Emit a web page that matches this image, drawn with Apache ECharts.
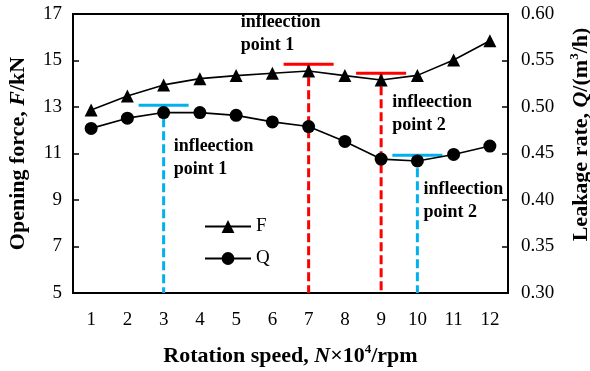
<!DOCTYPE html>
<html>
<head>
<meta charset="utf-8">
<script src="https://cdn.jsdelivr.net/npm/echarts@6/dist/echarts.min.js"></script>
<style>
  html, body { margin: 0; padding: 0; background: #fff; }
  #chart { width: 590px; height: 371px; }
</style>
</head>
<body>
<div id="chart"></div>
<script>
// Rotation speed categories (×10^4 rpm)
const speeds = ['1', '2', '3', '4', '5', '6', '7', '8', '9', '10', '11', '12'];
// Opening force F (kN)
const forceF = [12.87, 13.47, 13.95, 14.22, 14.35, 14.45, 14.55, 14.35, 14.16, 14.36, 15.02, 15.85];
// Leakage rate Q (m3/h)
const leakQ = [0.477, 0.488, 0.494, 0.494, 0.491, 0.484, 0.479, 0.463, 0.444, 0.442, 0.449, 0.458];
// Left axis tick labels
const forceTicks = [5, 7, 9, 11, 13, 15, 17];

// Inflection points of F (speed, bar level on the F axis)
const fInflectionX = [7, 9];
const fInflectionLevel = [14.84, 14.45];
const fInflectionText = ['infleection\npoint 1', 'infleection\npoint 2'];
// Inflection points of Q (speed, bar level on the Q axis)
const qInflectionX = [3, 10];
const qInflectionLevel = [0.502, 0.448];
const qInflectionText = ['infleection\npoint 1', 'infleection\npoint 2'];

const SERIF = '"Liberation Serif", "Times New Roman", serif';
const HALF = 0.69; // half length of the marker bar, in speed units

// label offsets (px) from each inflection bar centre
const fTextOffset = [[-68, -53], [11, 18]];
const qTextOffset = [[10, 30], [6, 22]];

function inflectionRenderer(texts, offsets, color) {
  return function (params, api) {
    const x = api.value(0), lv = api.value(1);
    const p = api.coord([x, lv]);
    const l = api.coord([x - HALF, lv]);
    const r = api.coord([x + HALF, lv]);
    const yBottom = params.coordSys.y + params.coordSys.height;
    const off = offsets[params.dataIndex];
    return {
      type: 'group',
      children: [
        { type: 'line', shape: { x1: p[0], y1: p[1], x2: p[0], y2: yBottom },
          style: { stroke: color, lineWidth: 3, lineDash: [9, 4] } },
        { type: 'line', shape: { x1: l[0], y1: p[1], x2: r[0], y2: p[1] },
          style: { stroke: color, lineWidth: 3 } },
        { type: 'text', x: p[0] + off[0], y: p[1] + off[1],
          style: { text: texts[params.dataIndex], fontFamily: SERIF, fontWeight: 'bold',
                   fontSize: 18, lineHeight: 23, fill: '#000', align: 'left', verticalAlign: 'top' } }
      ]
    };
  };
}

const nameRich = {
  b: { fontFamily: SERIF, fontWeight: 'bold', fontSize: 22, color: '#000', lineHeight: 26 },
  bi: { fontFamily: SERIF, fontWeight: 'bold', fontStyle: 'italic', fontSize: 22, color: '#000', lineHeight: 26 },
  sup: { fontFamily: SERIF, fontWeight: 'bold', fontSize: 13, color: '#000', lineHeight: 15, verticalAlign: 'top' }
};

const chart = echarts.init(document.getElementById('chart'), null, { renderer: 'canvas' });
chart.setOption({
  animation: false,
  backgroundColor: '#fff',
  grid: { left: 73, right: 82, top: 14, bottom: 78, show: true, borderColor: '#000', borderWidth: 2,
          containLabel: false, outerBoundsMode: 'none' },
  legend: {
    data: ['F', 'Q'],
    orient: 'vertical',
    left: 199, top: 212,
    itemWidth: 46, itemHeight: 16, itemGap: 13,
    textStyle: { fontFamily: SERIF, fontSize: 19, color: '#000' }
  },
  xAxis: [
    {
      type: 'category', data: speeds, boundaryGap: true,
      name: '{b|Rotation speed, }{bi|N}{b|×10}{sup|4}{b|/rpm}',
      nameLocation: 'middle', nameGap: 50,
      nameTextStyle: { rich: nameRich },
      axisLine: { lineStyle: { color: '#000', width: 2 } },
      axisTick: { inside: true, length: 6, lineStyle: { color: '#000', width: 1.5 } },
      axisLabel: { margin: 18, fontFamily: SERIF, fontSize: 19, color: '#000' },
      splitLine: { show: false }
    },
    { type: 'value', min: 0.5, max: 12.5, show: false }
  ],
  yAxis: [
    {
      type: 'value', min: 5, max: 17,
      name: '{b|Opening force, }{bi|F}{b|/kN}',
      nameLocation: 'middle', nameGap: 42, nameRotate: 90,
      nameTextStyle: { rich: nameRich },
      axisLine: { show: true, lineStyle: { color: '#000', width: 2 } },
      axisTick: { show: true, inside: true, length: 6, customValues: forceTicks,
                  lineStyle: { color: '#000', width: 1.5 } },
      axisLabel: { customValues: forceTicks, margin: 11, fontFamily: SERIF, fontSize: 19, color: '#000' },
      splitLine: { show: false }
    },
    {
      type: 'value', min: 0.30, max: 0.60, interval: 0.05, position: 'right',
      name: '{b|Leakage rate, }{bi|Q}{b|/(m}{sup|3}{b|/h)}',
      nameLocation: 'middle', nameGap: 60, nameRotate: 90,
      nameTextStyle: { rich: nameRich, padding: [0, 0, 0, 38] },
      axisLine: { show: true, lineStyle: { color: '#000', width: 2 } },
      axisTick: { show: true, inside: true, length: 6, lineStyle: { color: '#000', width: 1.5 } },
      axisLabel: { margin: 13, fontFamily: SERIF, fontSize: 19, color: '#000',
                   formatter: v => v.toFixed(2) },
      splitLine: { show: false }
    }
  ],
  series: [
    {
      type: 'custom', name: 'F inflection', xAxisIndex: 1, yAxisIndex: 0, z: 1,
      data: fInflectionX.map((x, i) => [x, fInflectionLevel[i]]),
      renderItem: inflectionRenderer(fInflectionText, fTextOffset, '#ff0000')
    },
    {
      type: 'custom', name: 'Q inflection', xAxisIndex: 1, yAxisIndex: 1, z: 1,
      data: qInflectionX.map((x, i) => [x, qInflectionLevel[i]]),
      renderItem: inflectionRenderer(qInflectionText, qTextOffset, '#00b0f0')
    },
    {
      type: 'line', name: 'F', data: forceF, xAxisIndex: 0, yAxisIndex: 0, z: 3,
      symbol: 'triangle', symbolSize: 13,
      itemStyle: { color: '#000' }, lineStyle: { color: '#000', width: 1.6 }
    },
    {
      type: 'line', name: 'Q', data: leakQ, xAxisIndex: 0, yAxisIndex: 1, z: 3,
      symbol: 'circle', symbolSize: 13,
      itemStyle: { color: '#000' }, lineStyle: { color: '#000', width: 1.6 }
    }
  ]
});
</script>
</body>
</html>
